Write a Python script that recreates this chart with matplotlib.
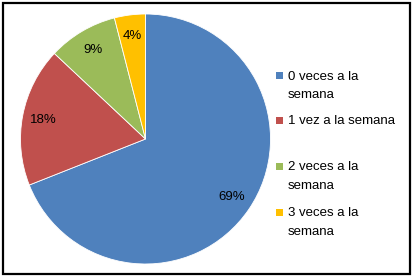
import matplotlib
matplotlib.use('Agg')
import matplotlib.pyplot as plt
from matplotlib.patches import Rectangle

# data
labels = ['0 veces a la\nsemana', '1 vez a la semana', '2 veces a la\nsemana', '3 veces a la\nsemana']
values = [69, 18, 9, 4]
colors = ['#4F81BD', '#C0504D', '#9BBB59', '#FFC000']

plt.rcParams['font.family'] = ['Liberation Sans', 'DejaVu Sans']

W, H = 412, 276
fig = plt.figure(figsize=(W / 100, H / 100), dpi=100)

# pie placed so center ~ (145, 139) px, radius ~125 px
cx, cy, r = 145.5, 139, 125
ax = fig.add_axes([(cx - r) / W, (H - cy - r) / H, 2 * r / W, 2 * r / H])
ax.pie(values, colors=colors, startangle=90, counterclock=False,
       autopct='%1.0f%%', pctdistance=0.83,
       wedgeprops=dict(edgecolor='white', linewidth=0.6),
       textprops=dict(fontsize=9.5, color='black'))
ax.set_xlim(-1, 1)
ax.set_ylim(-1, 1)
ax.set_aspect('equal')

# legend, drawn by hand so the marker sits on the first line
legend_y = [75.5, 120, 166, 212]
for lab, col, y in zip(labels, colors, legend_y):
    fig.patches.append(Rectangle((276 / W, (H - y - 3.5) / H), 7 / W, 7 / H,
                                 transform=fig.transFigure, facecolor=col,
                                 edgecolor='none'))
    fig.text(288 / W, (H - y + 4.5) / H, lab, fontsize=9.5, va='top', ha='left',
             linespacing=1.7, transform=fig.transFigure)

# outer frame
fig.patches.append(Rectangle((2.5 / W, 2.5 / H), (W - 5) / W, (H - 5) / H,
                             transform=fig.transFigure, fill=False,
                             edgecolor='black', linewidth=1.6))

plt.savefig('out.png', dpi=100)
plt.close()
